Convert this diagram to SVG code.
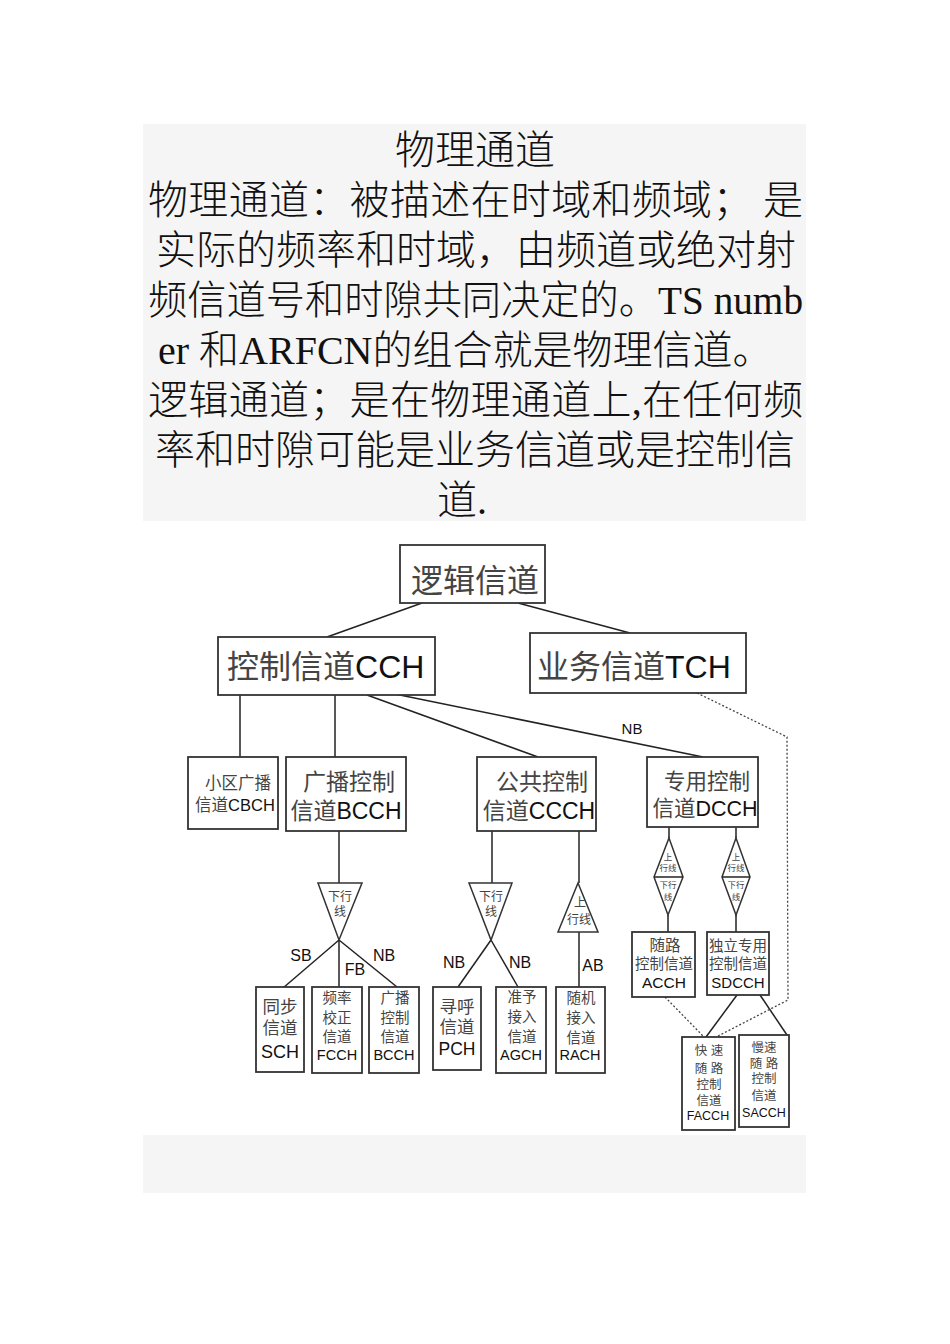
<svg xmlns="http://www.w3.org/2000/svg" width="950" height="1344" viewBox="0 0 950 1344">
<style>
.panel{fill:#f5f5f5}
.pt{font-family:"Liberation Serif","Noto Sans CJK SC",serif;font-size:40px;fill:#111;font-weight:300}
.box{fill:#fff;stroke:#333;stroke-width:1.8}
.shape{fill:#fff;stroke:#333;stroke-width:1.5}
.ln{stroke:#222;stroke-width:1.5;fill:none}
.dot{stroke:#444;stroke-width:1.3;fill:none;stroke-dasharray:2 2}
.t{font-family:"Liberation Sans","Noto Sans CJK SC",sans-serif;fill:#444;text-anchor:middle}
.ts{text-anchor:start}
.lat{fill:#111}
.lbl{font-family:"Liberation Sans",sans-serif;fill:#111;text-anchor:middle;font-size:16px}
</style>
<rect width="950" height="1344" fill="#fff"/>
<g id="text-panel">
<rect class="panel" x="143" y="124" width="663" height="397"/>
<text class="pt" x="475" y="164" text-anchor="middle">物理通道</text>
<text class="pt" x="148" y="214" textLength="655" lengthAdjust="spacing">物理通道：被描述在时域和频域； 是</text>
<text class="pt" x="476" y="264" text-anchor="middle">实际的频率和时域，由频道或绝对射</text>
<text class="pt" x="148" y="314" textLength="655" lengthAdjust="spacingAndGlyphs">频信道号和时隙共同决定的。TS numb</text>
<text class="pt" x="158" y="364">er 和ARFCN的组合就是物理信道。</text>
<text class="pt" x="148" y="414" textLength="655" lengthAdjust="spacing">逻辑通道；是在物理通道上,在任何频</text>
<text class="pt" x="475" y="464" text-anchor="middle">率和时隙可能是业务信道或是控制信</text>
<text class="pt" x="437" y="514">道.</text>
</g>
<rect class="panel" x="143" y="1135" width="663" height="58"/>
<g id="connectors">
<line class="ln" x1="422" y1="603" x2="327" y2="637"/>
<line class="ln" x1="518" y1="603" x2="630" y2="633"/>
<line class="ln" x1="240" y1="695" x2="240" y2="757"/>
<line class="ln" x1="335" y1="695" x2="335" y2="757"/>
<line class="ln" x1="367" y1="695" x2="538" y2="757"/>
<line class="ln" x1="390" y1="693" x2="703" y2="757"/>
<line class="ln" x1="339" y1="831" x2="339" y2="883"/>
<line class="ln" x1="339" y1="940" x2="283" y2="988"/>
<line class="ln" x1="339" y1="940" x2="339" y2="987"/>
<line class="ln" x1="339" y1="940" x2="397" y2="987"/>
<line class="ln" x1="492" y1="831" x2="492" y2="883"/>
<line class="ln" x1="491" y1="940" x2="458" y2="987"/>
<line class="ln" x1="491" y1="940" x2="518" y2="987"/>
<line class="ln" x1="579" y1="831" x2="579" y2="883"/>
<line class="ln" x1="579" y1="932" x2="579" y2="987"/>
<line class="ln" x1="669" y1="827" x2="669" y2="838"/>
<line class="ln" x1="736" y1="827" x2="736" y2="838"/>
<line class="ln" x1="668" y1="915" x2="668" y2="932"/>
<line class="ln" x1="736" y1="915" x2="736" y2="932"/>
<line class="ln" x1="737" y1="995" x2="706" y2="1037"/>
<line class="ln" x1="760" y1="995" x2="787" y2="1035"/>
<polyline class="dot" points="697,693 787,737 788,1000 718,1036"/>
<line class="dot" x1="665" y1="997" x2="703" y2="1036"/>
</g>
<g id="edge-labels">
<text class="lbl" x="632" y="734" style="font-size:15px">NB</text>
<text class="lbl" x="301" y="961">SB</text>
<text class="lbl" x="355" y="975">FB</text>
<text class="lbl" x="384" y="961">NB</text>
<text class="lbl" x="454" y="968">NB</text>
<text class="lbl" x="520" y="968">NB</text>
<text class="lbl" x="593" y="971">AB</text>
</g>
<g id="n-logic">
<rect class="box" x="400" y="545" width="145" height="58"/>
<text class="t" x="475" y="592" font-size="32">逻辑信道</text>
</g>
<g id="n-cch">
<rect class="box" x="218" y="637" width="217" height="58"/>
<text class="t ts" x="227" y="678" font-size="32">控制信道<tspan class="lat">CCH</tspan></text>
</g>
<g id="n-tch">
<rect class="box" x="530" y="633" width="216" height="60"/>
<text class="t ts" x="537" y="678" font-size="32">业务信道<tspan class="lat">TCH</tspan></text>
</g>
<g id="n-cbch">
<rect class="box" x="188" y="757" width="90" height="72"/>
<text class="t" x="238" y="789" font-size="16.5">小区广播</text>
<text class="t" x="235" y="811" font-size="16.5">信道<tspan class="lat">CBCH</tspan></text>
</g>
<g id="n-bcch">
<rect class="box" x="286" y="757" width="120" height="74"/>
<text class="t" x="349" y="790" font-size="23">广播控制</text>
<text class="t" x="346" y="819" font-size="23">信道<tspan class="lat">BCCH</tspan></text>
</g>
<g id="n-ccch">
<rect class="box" x="477" y="757" width="119" height="74"/>
<text class="t" x="542" y="790" font-size="23">公共控制</text>
<text class="t" x="539" y="819" font-size="23">信道<tspan class="lat">CCCH</tspan></text>
</g>
<g id="n-dcch">
<rect class="box" x="647" y="757" width="111" height="70"/>
<text class="t" x="707" y="789" font-size="21.5">专用控制</text>
<text class="t" x="705" y="816" font-size="21.5">信道<tspan class="lat">DCCH</tspan></text>
</g>
<g id="tri-bcch">
<polygon class="shape" points="318,883 362,883 339,940"/>
<text class="t" x="340" y="901" font-size="12">下行</text>
<text class="t" x="340" y="916" font-size="12">线</text>
</g>
<g id="tri-ccch-down">
<polygon class="shape" points="469,883 512,883 491,940"/>
<text class="t" x="491" y="901" font-size="12">下行</text>
<text class="t" x="491" y="916" font-size="12">线</text>
</g>
<g id="tri-ccch-up">
<polygon class="shape" points="578,883 598,932 558,932"/>
<text class="t" x="580" y="907" font-size="12">上</text>
<text class="t" x="579" y="924" font-size="12">行线</text>
</g>
<g id="dia-acch">
<polygon class="shape" points="669,838 683,877 668,915 654,877"/>
<line class="ln" x1="654" y1="877" x2="683" y2="877"/>
<text class="t" x="668" y="860" font-size="8.5">上</text>
<text class="t" x="668" y="871" font-size="8.5">行线</text>
<text class="t" x="668" y="888" font-size="8.5">下行</text>
<text class="t" x="668" y="900" font-size="8.5">线</text>
</g>
<g id="dia-sdcch">
<polygon class="shape" points="736,838 750,877 736,915 722,877"/>
<line class="ln" x1="722" y1="877" x2="750" y2="877"/>
<text class="t" x="736" y="860" font-size="8.5">上</text>
<text class="t" x="736" y="871" font-size="8.5">行线</text>
<text class="t" x="736" y="888" font-size="8.5">下行</text>
<text class="t" x="736" y="900" font-size="8.5">线</text>
</g>
<g id="n-sch">
<rect class="box" x="256" y="987" width="48" height="85"/>
<text class="t" x="280" y="1013" font-size="17.5">同步</text>
<text class="t" x="280" y="1034" font-size="17.5">信道</text>
<text class="t lat" x="280" y="1058" font-size="18">SCH</text>
</g>
<g id="n-fcch">
<rect class="box" x="312" y="987" width="50" height="86"/>
<text class="t" x="337" y="1003" font-size="14.5">频率</text>
<text class="t" x="337" y="1023" font-size="14.5">校正</text>
<text class="t" x="337" y="1042" font-size="14.5">信道</text>
<text class="t lat" x="337" y="1060" font-size="14.5">FCCH</text>
</g>
<g id="n-bcch2">
<rect class="box" x="369" y="987" width="50" height="86"/>
<text class="t" x="395" y="1003" font-size="14.5">广播</text>
<text class="t" x="395" y="1023" font-size="14.5">控制</text>
<text class="t" x="395" y="1042" font-size="14.5">信道</text>
<text class="t lat" x="394" y="1060" font-size="14.5">BCCH</text>
</g>
<g id="n-pch">
<rect class="box" x="433" y="987" width="48" height="83"/>
<text class="t" x="457" y="1013" font-size="17.5">寻呼</text>
<text class="t" x="457" y="1033" font-size="17.5">信道</text>
<text class="t lat" x="457" y="1055" font-size="17.5">PCH</text>
</g>
<g id="n-agch">
<rect class="box" x="496" y="987" width="50" height="86"/>
<text class="t" x="522" y="1002" font-size="14.5">准予</text>
<text class="t" x="522" y="1022" font-size="14.5">接入</text>
<text class="t" x="522" y="1042" font-size="14.5">信道</text>
<text class="t lat" x="521" y="1060" font-size="14.5">AGCH</text>
</g>
<g id="n-rach">
<rect class="box" x="556" y="987" width="49" height="86"/>
<text class="t" x="581" y="1003" font-size="14.5">随机</text>
<text class="t" x="581" y="1023" font-size="14.5">接入</text>
<text class="t" x="581" y="1043" font-size="14.5">信道</text>
<text class="t lat" x="580" y="1060" font-size="14.5">RACH</text>
</g>
<g id="n-acch">
<rect class="box" x="632" y="932" width="63" height="65"/>
<text class="t" x="665" y="951" font-size="15.5">随路</text>
<text class="t" x="664" y="969" font-size="14.5">控制信道</text>
<text class="t lat" x="664" y="988" font-size="15.5">ACCH</text>
</g>
<g id="n-sdcch">
<rect class="box" x="707" y="932" width="62" height="63"/>
<text class="t" x="738" y="951" font-size="14.5">独立专用</text>
<text class="t" x="738" y="969" font-size="14.5">控制信道</text>
<text class="t lat" x="738" y="988" font-size="15">SDCCH</text>
</g>
<g id="n-facch">
<rect class="box" x="682" y="1037" width="53" height="93"/>
<text class="t" x="709" y="1055" font-size="12.5">快 速</text>
<text class="t" x="709" y="1073" font-size="12.5">随 路</text>
<text class="t" x="709" y="1089" font-size="12.5">控制</text>
<text class="t" x="709" y="1105" font-size="12.5">信道</text>
<text class="t lat" x="708" y="1120" font-size="12.5">FACCH</text>
</g>
<g id="n-sacch">
<rect class="box" x="739" y="1035" width="50" height="92"/>
<text class="t" x="764" y="1052" font-size="12.5">慢速</text>
<text class="t" x="764" y="1068" font-size="12.5">随 路</text>
<text class="t" x="764" y="1083" font-size="12.5">控制</text>
<text class="t" x="764" y="1100" font-size="12.5">信道</text>
<text class="t lat" x="764" y="1117" font-size="12.5">SACCH</text>
</g>
</svg>
